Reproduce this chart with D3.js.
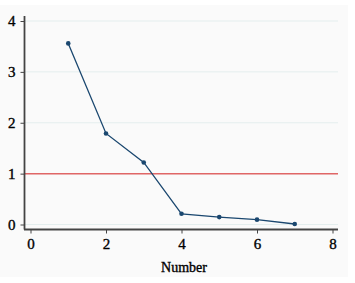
<!DOCTYPE html>
<html>
<head>
<meta charset="utf-8">
<script src="https://cdn.jsdelivr.net/npm/d3@7"></script>
<style>
  body { margin: 0; background: #ffffff; }
  text { font-family: "Liberation Serif", "DejaVu Serif", serif; stroke: #000; stroke-width: 0.35px; }
</style>
</head>
<body>
<script>
// scree plot values
const numbers = [1, 2, 3, 4, 5, 6, 7];
const eigenvalues = [3.56, 1.79, 1.22, 0.21, 0.145, 0.095, 0.01];
const xTicks = [0, 2, 4, 6, 8];
const yTicks = [0, 1, 2, 3, 4];
const refValue = 1;

const width = 355, height = 283;

var svg = d3.select("body")
            .append("svg")
            .attr("width", width)
            .attr("height", height);

// faint panel behind the plot
svg.append("rect")
   .attr("x", 0).attr("y", 5)
   .attr("width", 348).attr("height", 272)
   .attr("fill", "#fafafa");

var x = d3.scaleLinear().domain([0, 8]).range([30.5, 332.5]);
var y = d3.scaleLinear().domain([0, 4]).range([224.5, 21]);

// grid lines
svg.append("g")
   .selectAll("line")
   .data(yTicks)
   .enter()
   .append("line")
   .attr("x1", 25).attr("x2", 338)
   .attr("y1", d => y(d)).attr("y2", d => y(d))
   .style("stroke", "#e4eeee")
   .style("stroke-width", 1);

// reference line at eigenvalue 1
svg.append("line")
   .attr("x1", 25).attr("x2", 338)
   .attr("y1", y(refValue)).attr("y2", y(refValue))
   .style("stroke", "#e06666")
   .style("stroke-width", 1.5);

// y axis
var yAxis = svg.append("g")
   .attr("transform", "translate(24.5,0)")
   .call(d3.axisLeft(y).tickValues(yTicks).tickFormat(d3.format("d")).tickSize(4).tickPadding(5));
yAxis.select(".domain").attr("d", "M0,16V229.5").style("stroke", "#444").style("stroke-width", 1.8);
yAxis.selectAll(".tick line").style("stroke", "#444");
yAxis.selectAll(".tick text").style("font-size", "15px").attr("fill", "#000");

// x axis
var xAxis = svg.append("g")
   .attr("transform", "translate(0,229.5)")
   .call(d3.axisBottom(x).tickValues(xTicks).tickFormat(d3.format("d")).tickSize(4).tickPadding(5));
xAxis.select(".domain").attr("d", "M24,0H338").style("stroke", "#444").style("stroke-width", 1.8);
xAxis.selectAll(".tick line").style("stroke", "#444");
xAxis.selectAll(".tick text").style("font-size", "15px").attr("fill", "#000");

svg.append("text")
   .attr("x", 184).attr("y", 272)
   .attr("text-anchor", "middle")
   .style("font-size", "14px")
   .attr("fill", "#000")
   .text("Number");

// the eigenvalue line
var pts = numbers.map((n, i) => [n, eigenvalues[i]]);
svg.append("path")
   .datum(pts)
   .attr("fill", "none")
   .attr("stroke", "#1a476f")
   .attr("stroke-width", 1.3)
   .attr("d", d3.line().x(d => x(d[0])).y(d => y(d[1])));

svg.append("g")
   .selectAll("circle")
   .data(pts)
   .enter()
   .append("circle")
   .attr("cx", d => x(d[0]))
   .attr("cy", d => y(d[1]))
   .attr("r", 2.3)
   .attr("fill", "#1a476f");
</script>
</body>
</html>
